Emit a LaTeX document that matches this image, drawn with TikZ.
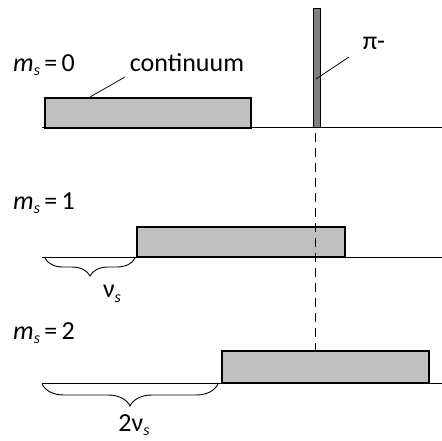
\documentclass[tikz,border=0pt]{standalone}
\usepackage{fontspec}
\setmainfont{Carlito}
\usetikzlibrary{decorations.pathreplacing}
\newcommand{\msublabel}[1]{{\itshape m}\raisebox{-0.35ex}{\fontsize{16}{18}\selectfont\itshape s}\,=\,#1}
\begin{document}
\begin{tikzpicture}[x=1pt,y=-1pt,
  lbl/.style={font=\fontsize{26}{28}\selectfont, inner sep=0pt},
  bandbox/.style={draw=black, line width=1.2pt, fill=bandgray, inner sep=0pt},
  base/.style={line width=1pt},
  leader/.style={line width=0.8pt},
  bracedec/.style={decorate, decoration={brace, mirror, amplitude=#1}, line width=0.9pt}]
\definecolor{bandgray}{HTML}{C0C0C0}
\definecolor{bargray}{HTML}{808080}
\useasboundingbox (0,0) rectangle (442,441);
% row 1
\node[bandbox, minimum width=206pt, minimum height=30pt] (c0) at (148,113) {};
\node[draw=black, line width=1pt, fill=bargray, minimum width=7pt, minimum height=119pt, inner sep=0pt] (pi) at (316.5,68.5) {};
\coordinate (b0l) at (42,128);
\coordinate (b0r) at (442,128);
\draw[base] (b0l) -- (b0r);
\node[lbl] (m0) at (44,65) {\msublabel{0}};
\node[lbl] (cont) at (187,63) {continuum};
\node[lbl] (pil) at (374,43) {π-};
\coordinate (cl1) at (125,77);
\coordinate (cl2) at (90,97);
\draw[leader] (cl1) -- (cl2);
\coordinate (pl1) at (349,57);
\coordinate (pl2) at (316,79);
\draw[leader] (pl1) -- (pl2);
% row 2
\node[bandbox, minimum width=208pt, minimum height=30pt] (c1) at (241,242) {};
\coordinate (b1l) at (42,257);
\coordinate (b1r) at (442,257);
\draw[base] (b1l) -- (b1r);
\node[lbl] (m1) at (44,203) {\msublabel{1}};
\coordinate (br1a) at (45,258);
\coordinate (br1b) at (135,258);
\draw[bracedec=18pt] (br1a) -- (br1b);
\node[lbl] (nu1) at (112,294) {ν\raisebox{-0.35ex}{\fontsize{16}{18}\selectfont\itshape s}};
% row 3
\node[bandbox, minimum width=207pt, minimum height=32pt] (c2) at (325.5,367) {};
\coordinate (b2l) at (42,383);
\coordinate (b2r) at (442,383);
\draw[base] (b2l) -- (b2r);
\node[lbl] (m2) at (44,333) {\msublabel{2}};
\coordinate (br2a) at (42,384);
\coordinate (br2b) at (218,384);
\draw[bracedec=22pt] (br2a) -- (br2b);
\node[lbl] (nu2) at (134,425) {2ν\raisebox{-0.35ex}{\fontsize{16}{18}\selectfont\itshape s}};
% dashed line
\coordinate (d1) at (315.5,133);
\coordinate (d2) at (315.5,350);
\draw[line width=1.3pt, dash pattern=on 9pt off 6pt] (d1) -- (d2);
\end{tikzpicture}
\end{document}
